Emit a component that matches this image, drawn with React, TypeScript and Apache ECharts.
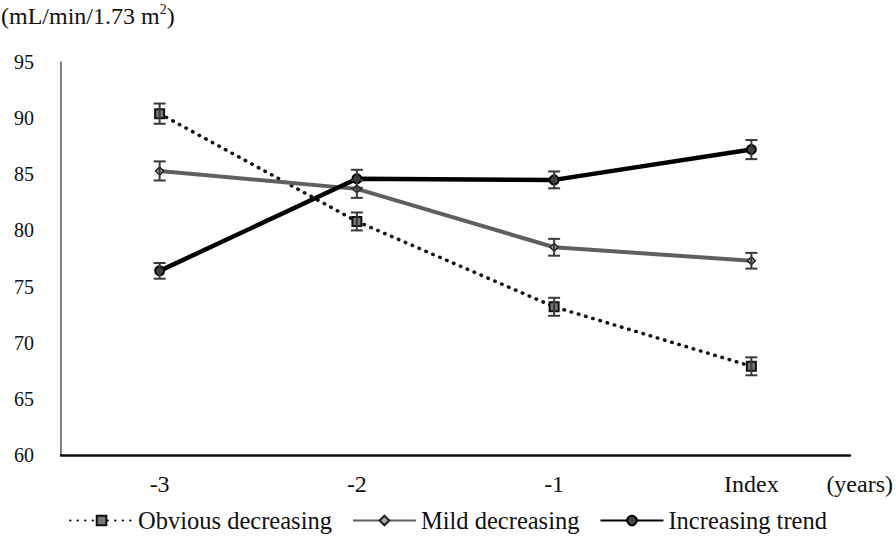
import React, { useEffect, useRef } from "react";
import * as echarts from "echarts";

const categories = ["-3", "-2", "-1", "Index"];
const seriesNames = ["Obvious decreasing", "Mild decreasing", "Increasing trend"];
const obviousValues = [90.4, 80.8, 73.2, 67.9];
const obviousErrors = [0.9, 0.8, 0.8, 0.8];
const mildValues = [85.3, 83.7, 78.5, 77.3];
const mildErrors = [0.85, 0.8, 0.75, 0.7];
const increasingValues = [76.4, 84.6, 84.5, 87.2];
const increasingErrors = [0.7, 0.8, 0.75, 0.85];
const yTicks = { min: 60, max: 95, interval: 5 };

const FONT = "Liberation Serif";

function errData(vals: number[], errs: number[]) {
  return vals.map((v, i) => [i, v - errs[i], v + errs[i]]);
}

function errSeries(name: string, vals: number[], errs: number[]) {
  return {
    type: "custom",
    name,
    data: errData(vals, errs),
    z: 5,
    silent: true,
    renderItem: (params: any, api: any) => {
      const lo = api.coord([api.value(0), api.value(1)]);
      const hi = api.coord([api.value(0), api.value(2)]);
      const w = 6;
      const style = { stroke: "#3a3a3a", lineWidth: 2 };
      return {
        type: "group",
        children: [
          { type: "line", shape: { x1: lo[0], y1: lo[1], x2: hi[0], y2: hi[1] }, style },
          { type: "line", shape: { x1: lo[0] - w, y1: lo[1], x2: lo[0] + w, y2: lo[1] }, style },
          { type: "line", shape: { x1: hi[0] - w, y1: hi[1], x2: hi[0] + w, y2: hi[1] }, style },
        ],
      };
    },
  };
}

export default function App() {
  const ref = useRef<HTMLDivElement>(null);
  useEffect(() => {
    if (!ref.current) return;
    const chart = echarts.init(ref.current, null, { renderer: "svg" });
    chart.setOption({
      animation: false,
      backgroundColor: "#ffffff",
      textStyle: { fontFamily: FONT, color: "#111" },
      grid: { left: 61, right: 46, top: 62, bottom: 88, containLabel: false },
      xAxis: {
        type: "category",
        data: categories,
        boundaryGap: true,
        axisLine: { lineStyle: { color: "#111", width: 2.5 } },
        axisTick: { show: false },
        axisLabel: { fontFamily: FONT, fontSize: 24, color: "#111", margin: 17 },
        splitLine: { show: false },
      },
      yAxis: {
        type: "value",
        min: yTicks.min,
        max: yTicks.max,
        interval: yTicks.interval,
        axisLine: { show: true, lineStyle: { color: "#5a5a5a", width: 1.5 } },
        axisTick: { show: false },
        axisLabel: { fontFamily: FONT, fontSize: 20, color: "#111", margin: 27 },
        splitLine: { show: false },
      },
      legend: {
        data: seriesNames,
        bottom: 5,
        left: "center",
        itemWidth: 63,
        itemHeight: 12,
        itemGap: 20,
        textStyle: { fontFamily: FONT, fontSize: 24.5, color: "#111" },
      },
      graphic: [
        {
          type: "text",
          left: 1,
          top: 2,
          style: {
            text: "{a|(mL/min/1.73 m}{s|2}{a|)}",
            rich: {
              a: { fontFamily: FONT, fontSize: 24, fill: "#111", verticalAlign: "bottom", lineHeight: 26 },
              s: { fontFamily: FONT, fontSize: 14, fill: "#111", verticalAlign: "top", lineHeight: 26, padding: [0, 0, 10, 0] },
            },
          },
        },
        {
          type: "text",
          right: 3,
          top: 472,
          style: { text: "(years)", font: `24px ${FONT}`, fill: "#111" },
        },
      ],
      series: [
        {
          type: "line",
          name: seriesNames[0],
          data: obviousValues,
          z: 3,
          symbol: "rect",
          symbolSize: 9,
          itemStyle: { color: "#777", borderColor: "#111", borderWidth: 2 },
          lineStyle: { color: "#111", width: 3.5, type: [0.5, 7], cap: "round" },
        },
        {
          type: "line",
          name: seriesNames[1],
          data: mildValues,
          z: 3,
          symbol: "diamond",
          symbolSize: 8,
          itemStyle: { color: "#aaa", borderColor: "#222", borderWidth: 1.5 },
          lineStyle: { color: "#5f5f5f", width: 4 },
        },
        {
          type: "line",
          name: seriesNames[2],
          data: increasingValues,
          z: 4,
          symbol: "circle",
          symbolSize: 9,
          itemStyle: { color: "#444", borderColor: "#000", borderWidth: 2 },
          lineStyle: { color: "#000", width: 4.5 },
        },
        errSeries("err-obvious", obviousValues, obviousErrors),
        errSeries("err-mild", mildValues, mildErrors),
        errSeries("err-increasing", increasingValues, increasingErrors),
      ],
    });
    return () => chart.dispose();
  }, []);
  return <div ref={ref} style={{ position: "fixed", left: 0, top: 0, width: 896, height: 543 }} />;
}
